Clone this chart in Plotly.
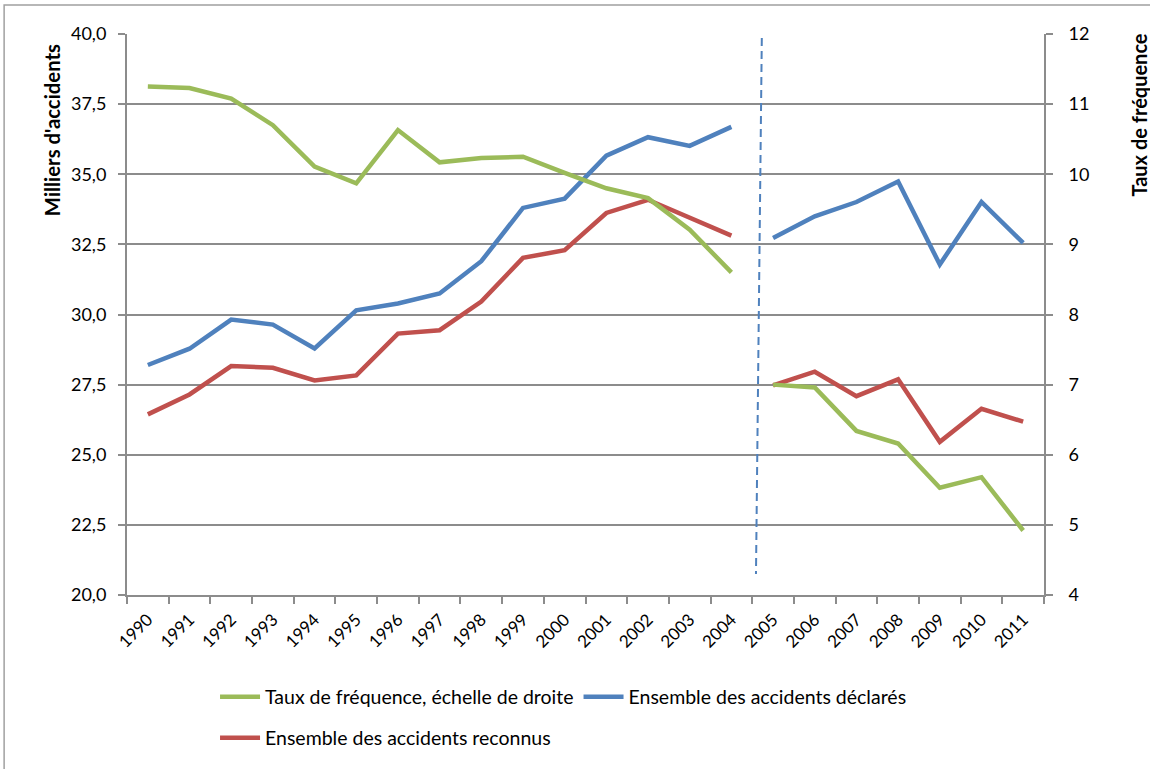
import plotly.graph_objects as go

# Years on the category axis
years = [str(y) for y in range(1990, 2012)]

# Thousands of accidents (left axis)
declared = [28.20, 28.78, 29.82, 29.64, 28.79, 30.15, 30.39, 30.75, 31.90, 33.80, 34.13,
            35.66, 36.32, 36.01, 36.69, 32.73, 33.50, 34.01, 34.74, 31.78, 34.01, 32.55]
recognized = [26.44, 27.15, 28.16, 28.10, 27.65, 27.83, 29.32, 29.44, 30.46, 32.02, 32.29,
              33.62, 34.09, 33.44, 32.81, 27.47, 27.96, 27.09, 27.69, 25.46, 26.64, 26.18]

# Frequency rate (right axis)
rate = [11.25, 11.23, 11.08, 10.70, 10.11, 9.87, 10.63, 10.17, 10.23, 10.25, 10.02,
        9.80, 9.66, 9.21, 8.60, 7.00, 6.96, 6.34, 6.16, 5.53, 5.68, 4.92]

# Series break: the data are not comparable before/after this year
break_year = "2005"

GREEN = "#9BBB59"
BLUE = "#4F81BD"
RED = "#C0504D"
GRID = "#8C8C8C"
FONT = "Lato, 'Open Sans', sans-serif"

cut = years.index(break_year)

fig = go.Figure()


def add_series(values, name, color, yaxis, legend):
    for i, (xs, ys) in enumerate(((years[:cut], values[:cut]), (years[cut:], values[cut:]))):
        fig.add_trace(go.Scatter(
            x=xs, y=ys, name=name, mode="lines", yaxis=yaxis,
            line=dict(color=color, width=4.5),
            legendgroup=name, showlegend=(i == 0), legend=legend,
        ))


add_series(rate, "Taux de fréquence, échelle de droite", GREEN, "y2", "legend")
add_series(declared, "Ensemble des accidents déclarés", BLUE, "y", "legend")
add_series(recognized, "Ensemble des accidents reconnus", RED, "y", "legend2")

# Dashed separator between the two periods
fig.add_shape(type="line", xref="x", yref="y",
              x0=cut - 0.27, y0=39.86, x1=cut - 0.41, y1=20.75,
              line=dict(color=BLUE, width=2, dash="8px,5px"))

# Chart frame
fig.add_shape(type="rect", xref="paper", yref="paper",
              x0=-0.134, y0=-0.33, x1=1.13, y1=1.0516,
              line=dict(color="#A0A0A0", width=1.5), fillcolor="rgba(0,0,0,0)", layer="below")

fig.add_annotation(text="<b>Milliers d'accidents</b>", xref="paper", yref="paper",
                   x=-0.081, y=0.985, xanchor="center", yanchor="top", textangle=-90,
                   showarrow=False, font=dict(family=FONT, size=20.3, color="#000"))
fig.add_annotation(text="<b>Taux de fréquence</b>", xref="paper", yref="paper",
                   x=1.104, y=1.004, xanchor="center", yanchor="top", textangle=-90,
                   showarrow=False, font=dict(family=FONT, size=20, color="#000"))

fig.update_layout(
    width=1150, height=769,
    margin=dict(l=127, r=106, t=34, b=173),
    paper_bgcolor="white", plot_bgcolor="white",
    separators=", ",
    font=dict(family=FONT, size=16, color="#000"),
    xaxis=dict(
        type="category", tickson="boundaries", ticks="outside", ticklen=7,
        tickcolor=GRID, tickwidth=2, showline=True, linecolor=GRID, linewidth=2,
        showgrid=False, tickangle=-45, range=[-0.5, len(years) - 0.5],
        tickfont=dict(size=17), ticklabelstandoff=6,
    ),
    yaxis=dict(
        range=[20, 40], dtick=2.5, tickformat=".1f", ticks="outside", ticklen=7,
        tickcolor=GRID, tickwidth=2, showline=True, linecolor=GRID, linewidth=2,
        showgrid=True, gridcolor=GRID, gridwidth=2, zeroline=False,
        tickfont=dict(size=18), ticklabelstandoff=8,
    ),
    yaxis2=dict(
        range=[4, 12], dtick=1, overlaying="y", side="right", ticks="outside", ticklen=7,
        tickcolor=GRID, tickwidth=2, showline=True, linecolor=GRID, linewidth=2,
        showgrid=False, zeroline=False, tickfont=dict(size=18), ticklabelstandoff=12,
    ),
    legend=dict(orientation="h", x=0.096, y=-0.18, xanchor="left", yanchor="middle",
                font=dict(size=19.5), itemwidth=40, traceorder="normal", bgcolor="rgba(0,0,0,0)"),
    legend2=dict(orientation="h", x=0.096, y=-0.253, xanchor="left", yanchor="middle",
                 font=dict(size=19.5), itemwidth=40, bgcolor="rgba(0,0,0,0)"),
)

fig.write_html("out.html")
